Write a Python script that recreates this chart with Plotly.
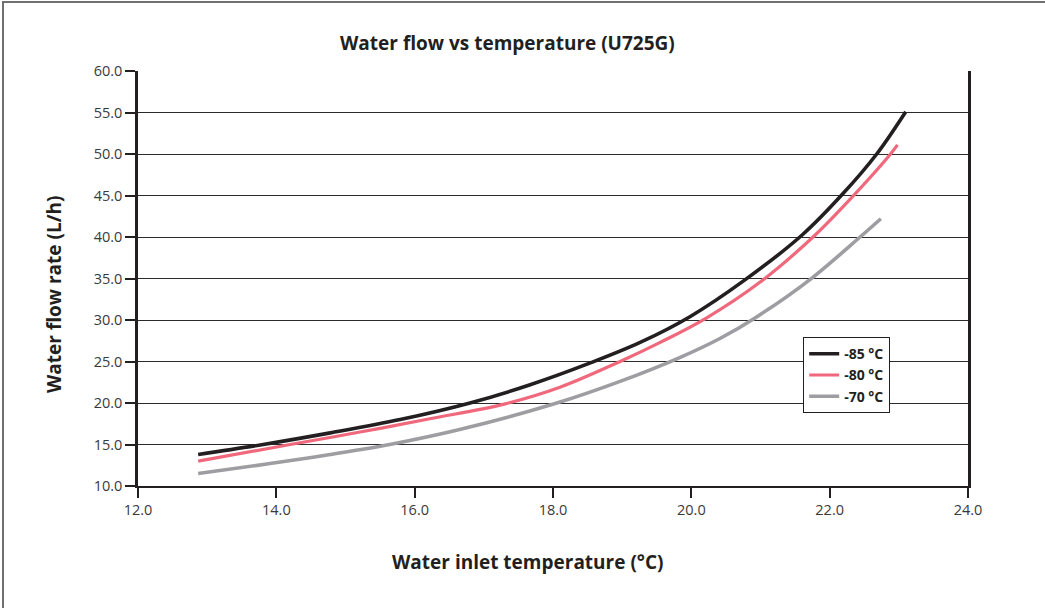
import plotly.graph_objects as go

# Data
temp_85 = [12.87, 13.81, 14.78, 15.79, 16.80, 17.67, 18.53, 19.26, 19.98, 20.77, 21.61, 22.19, 22.68, 23.10]
flow_85 = [13.8, 15.0, 16.4, 18.0, 20.0, 22.2, 24.8, 27.3, 30.4, 34.8, 40.3, 45.2, 50.0, 55.1]

temp_80 = [12.87, 14.20, 15.21, 16.22, 17.31, 18.10, 18.97, 19.55, 20.21, 21.00, 21.76, 22.29, 22.88, 22.98]
flow_80 = [13.0, 15.0, 16.5, 18.1, 19.9, 21.9, 25.0, 27.3, 30.2, 34.6, 40.0, 44.5, 50.0, 51.1]

temp_70 = [12.87, 13.91, 14.78, 15.64, 16.65, 18.02, 18.97, 19.84, 20.42, 20.95, 21.72, 22.44, 22.74]
flow_70 = [11.5, 12.7, 13.8, 15.0, 16.8, 19.9, 22.6, 25.5, 27.8, 30.4, 34.9, 40.0, 42.2]

series_names = ["-85 °C", "-80 °C", "-70 °C"]
series_colors = ["#231f20", "#f0687c", "#9e9ea2"]
series_widths = [3.6, 3.2, 3.6]

x_ticks = [12, 14, 16, 18, 20, 22, 24]
x_tick_labels = ["12.0", "14.0", "16.0", "18.0", "20.0", "22.0", "24.0"]
y_ticks = [10, 15, 20, 25, 30, 35, 40, 45, 50, 55, 60]
y_tick_labels = ["10.0", "15.0", "20.0", "25.0", "30.0", "35.0", "40.0", "45.0", "50.0", "55.0", "60.0"]

FONT = "Open Sans"
DARK = "#231f20"

fig = go.Figure()
for xs, ys, name, col, w in zip([temp_85, temp_80, temp_70], [flow_85, flow_80, flow_70],
                                series_names, series_colors, series_widths):
    fig.add_trace(go.Scatter(x=xs, y=ys, mode="lines", name=name,
                             line=dict(color=col, width=w, shape="spline", smoothing=1.0)))

L, R, T, B = 138, 77, 71, 122
W, H = 1045, 608
pw, ph = W - L - R, H - T - B


def px_x(p):
    return (p - L) / pw


def px_y(p):
    return (H - B - p) / ph


fig.update_layout(
    width=W, height=H,
    margin=dict(l=L, r=R, t=T, b=B),
    paper_bgcolor="white", plot_bgcolor="white",
    font=dict(family=FONT, color="#333333", size=14),
    xaxis=dict(range=[12, 24], tickvals=x_ticks, ticktext=x_tick_labels,
               showgrid=False, zeroline=False, showline=True, linecolor=DARK, linewidth=2,
               ticks="outside", ticklen=10, tickwidth=1.5, tickcolor=DARK,
               tickfont=dict(size=14.5, color="#3a3a3a")),
    yaxis=dict(range=[10, 60], tickvals=y_ticks, ticktext=y_tick_labels,
               showgrid=True, gridcolor="#2b2b2b", gridwidth=1.3, zeroline=False,
               showline=True, mirror=True, linecolor=DARK, linewidth=2.5,
               ticks="outside", ticklen=10, tickwidth=1.5, tickcolor=DARK,
               tickfont=dict(size=14.5, color="#3a3a3a")),
    legend=dict(x=px_x(803), y=px_y(337), xanchor="left", yanchor="top",
                bgcolor="white", bordercolor=DARK, borderwidth=1.2,
                font=dict(size=14, color=DARK, family=FONT, weight="bold"), itemwidth=30,
                tracegroupgap=0),
    showlegend=True,
)

# titles as annotations for exact placement
fig.add_annotation(text="<b>Water flow vs temperature (U725G)</b>", xref="paper", yref="paper",
                   x=px_x(507), y=px_y(43), xanchor="center", yanchor="middle", showarrow=False,
                   font=dict(size=19, color=DARK, family=FONT))
fig.add_annotation(text="<b>Water inlet temperature (°C)</b>", xref="paper", yref="paper",
                   x=px_x(528), y=px_y(562), xanchor="center", yanchor="middle", showarrow=False,
                   font=dict(size=19, color=DARK, family=FONT))
fig.add_annotation(text="<b>Water flow rate (L/h)</b>", xref="paper", yref="paper",
                   x=px_x(54), y=px_y(295), xanchor="center", yanchor="middle",
                   textangle=-90, showarrow=False,
                   font=dict(size=19, color=DARK, family=FONT))

# outer frame of the figure
fig.add_shape(type="rect", xref="paper", yref="paper",
              x0=px_x(3), y0=px_y(620), x1=px_x(1060), y1=px_y(2),
              line=dict(color="#707070", width=2), fillcolor="rgba(0,0,0,0)", layer="below")

fig.write_html("out.html", config={"displayModeBar": False},
               post_script="document.body.style.margin='0';")
